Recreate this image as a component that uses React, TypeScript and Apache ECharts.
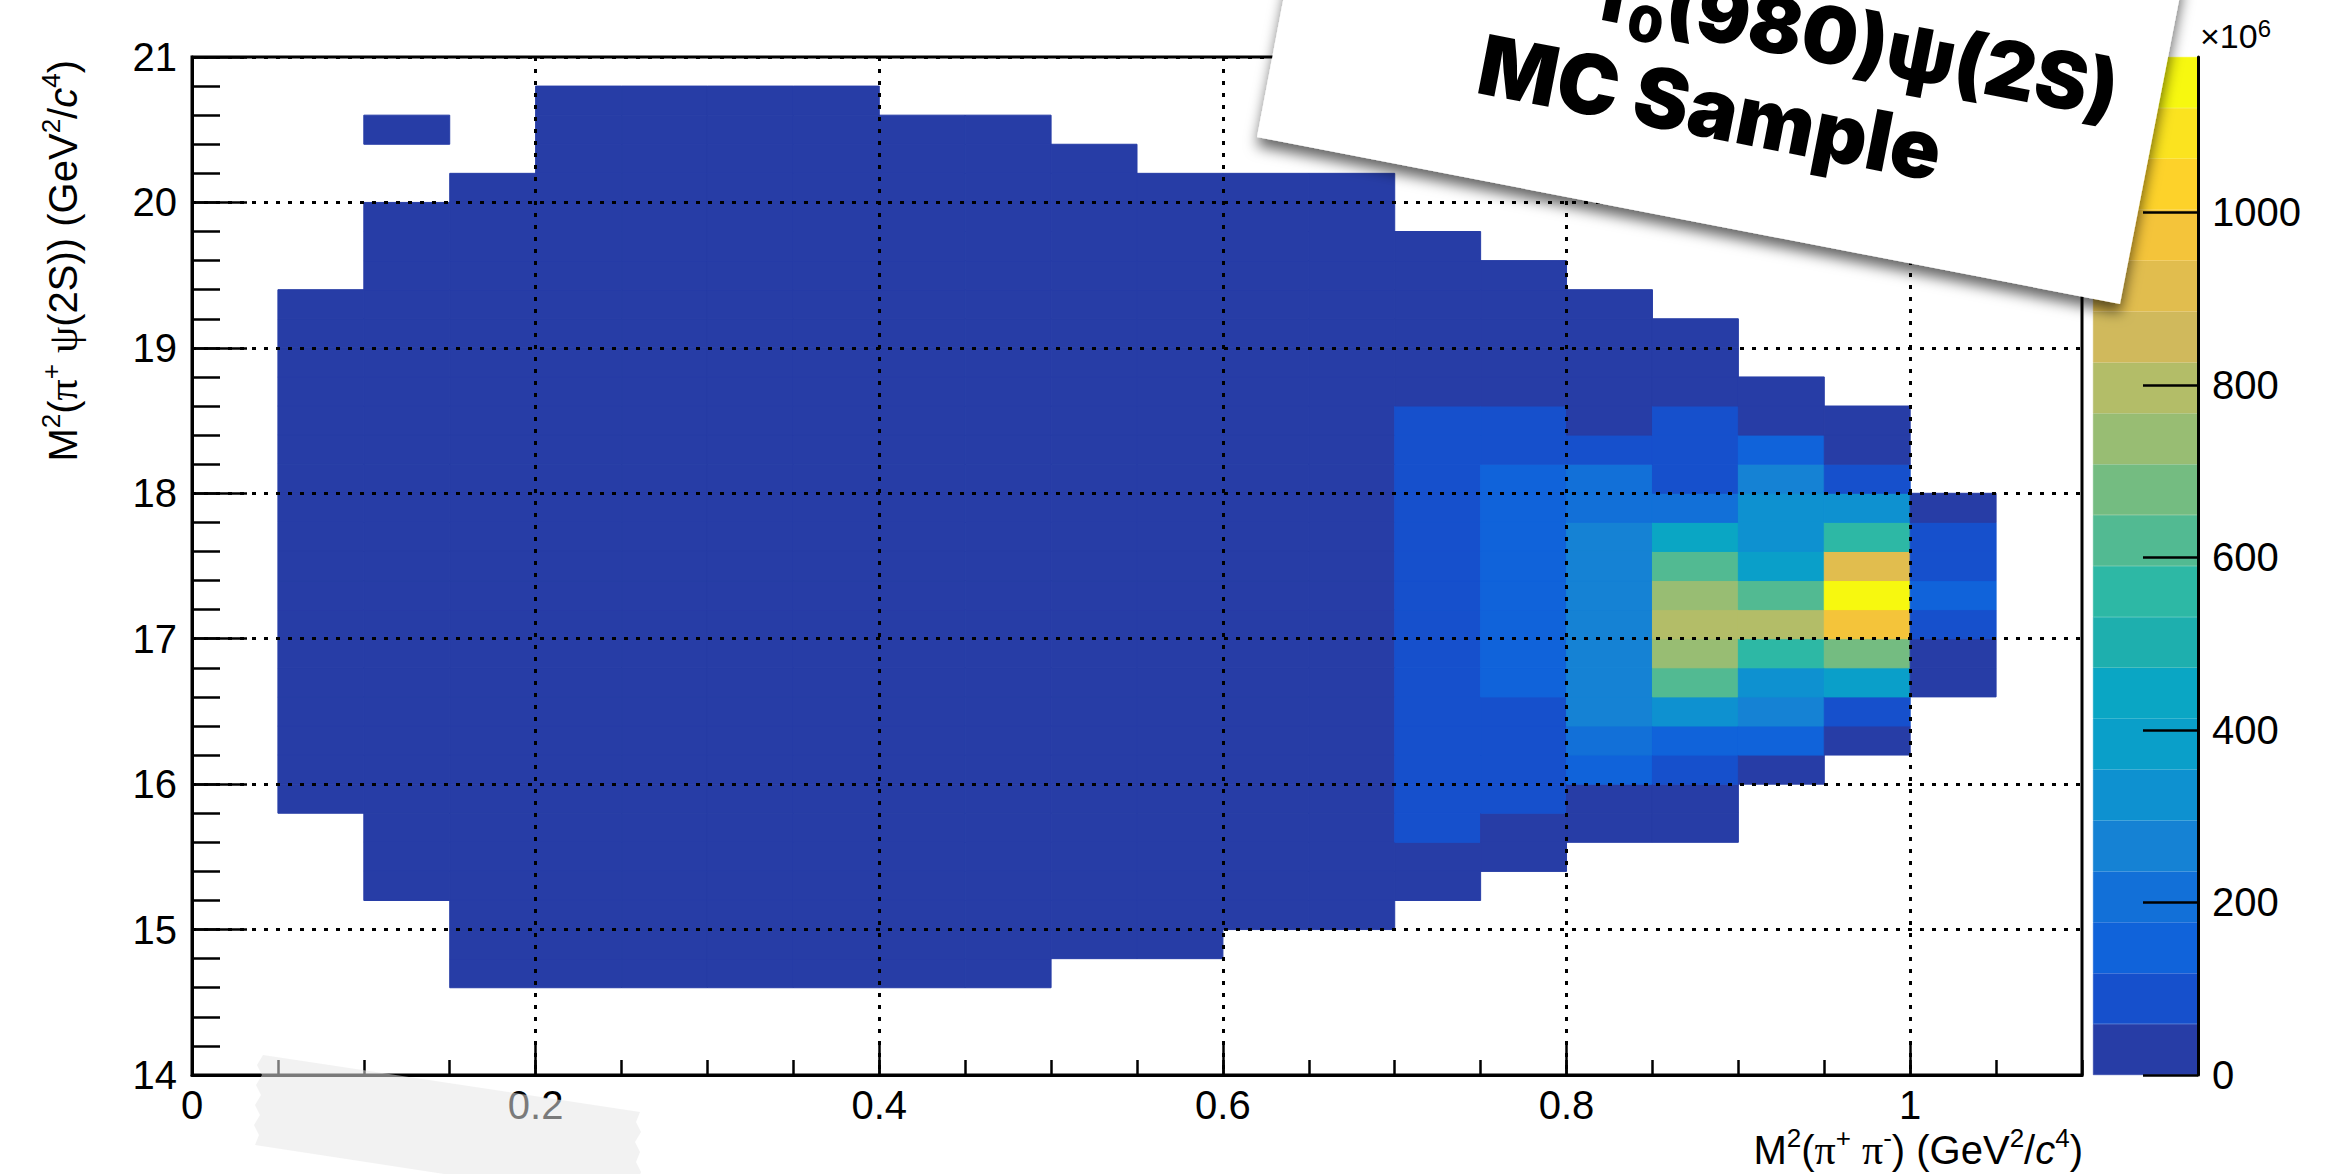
import React, { useEffect, useRef } from "react";
import * as echarts from "echarts";

// ---------- data ----------
const X_RANGE = [0, 1.1];
const Y_RANGE = [14, 21];
const BIN_X = 0.05;
const BIN_Y = 0.2;
const Z_MAX = 1180;

const xTickValues = [0, 0.2, 0.4, 0.6, 0.8, 1];
const yTickValues = [14, 15, 16, 17, 18, 19, 20, 21];
const zTickValues = [0, 200, 400, 600, 800, 1000];

// 20-step palette of the colour bar (bottom to top)
const palette = [
  "#273da6", "#1650cc", "#1063da", "#1270d8", "#1582d4",
  "#0e91d0", "#0a9fc9", "#0aa6c4", "#1eafae", "#2db8a5",
  "#52ba92", "#74bc81", "#98bd73", "#b3bd68", "#d0b95c",
  "#e1bd4e", "#f4c43a", "#fdd22a", "#fbe31f", "#f7f80f",
];

// occupied columns in the lowest colour band: [x bin low edge, y low, y high]
const lowColumns: [number, number, number][] = [
  [0.05, 15.8, 19.4],
  [0.10, 15.2, 20.0],
  [0.10, 20.4, 20.6],
  [0.15, 14.6, 20.2],
  [0.20, 14.6, 20.8],
  [0.25, 14.6, 20.8],
  [0.30, 14.6, 20.8],
  [0.35, 14.6, 20.8],
  [0.40, 14.6, 20.6],
  [0.45, 14.6, 20.6],
  [0.50, 14.8, 20.4],
  [0.55, 14.8, 20.2],
  [0.60, 15.0, 20.2],
  [0.65, 15.0, 20.2],
  [0.70, 15.2, 19.8],
  [0.75, 15.4, 19.6],
  [0.80, 15.6, 19.4],
  [0.85, 15.6, 19.2],
  [0.90, 16.0, 18.8],
  [0.95, 16.2, 18.6],
  [1.00, 16.6, 18.0],
];
const LOW_COUNT = 25; // counts in the darkest band (x10^6)

// brighter cells, per column: consecutive y bins starting at yStart
const hotColumns = [
  { x: 0.70, yStart: 15.6, values: [90, 90, 90, 90, 90, 90, 90, 90, 90, 90, 90, 90, 90, 90, 90] },
  { x: 0.75, yStart: 15.8, values: [90, 90, 90, 90, 150, 150, 150, 150, 150, 150, 150, 150, 90, 90] },
  { x: 0.80, yStart: 16.0, values: [150, 205, 265, 265, 265, 265, 265, 265, 265, 205, 205, 90] },
  { x: 0.85, yStart: 16.0, values: [90, 150, 325, 620, 740, 800, 740, 620, 440, 205, 90, 90, 90] },
  { x: 0.90, yStart: 16.2, values: [150, 265, 325, 560, 800, 620, 385, 325, 325, 265, 150] },
  { x: 0.95, yStart: 16.4, values: [90, 385, 680, 975, 1170, 915, 560, 325, 90] },
  { x: 1.00, yStart: 17.0, values: [90, 150, 90, 90] },
];

function buildCells(): number[][] {
  const hot = new Map<string, number>();
  hotColumns.forEach((col) => {
    const xi = Math.round(col.x / BIN_X);
    const j0 = Math.round((col.yStart - Y_RANGE[0]) / BIN_Y);
    col.values.forEach((v, k) => hot.set(xi + ":" + (j0 + k), v));
  });
  const cells: number[][] = [];
  lowColumns.forEach(([x, ylo, yhi]) => {
    const xi = Math.round(x / BIN_X);
    const j0 = Math.round((ylo - Y_RANGE[0]) / BIN_Y);
    const j1 = Math.round((yhi - Y_RANGE[0]) / BIN_Y);
    for (let j = j0; j < j1; j++) {
      const key = xi + ":" + j;
      cells.push([
        +(xi * BIN_X).toFixed(2),
        +(Y_RANGE[0] + j * BIN_Y).toFixed(1),
        hot.has(key) ? (hot.get(key) as number) : LOW_COUNT,
      ]);
    }
  });
  return cells;
}

// ---------- styles ----------
const FONT = "Liberation Sans";
const BLACK = "#000";
const AX_LINE = { color: BLACK, width: 3 };
const TICK_LINE = { color: BLACK, width: 2.5 };
const GRID_LINE = { color: BLACK, width: 3, type: [4, 8] as number[] };

const titleRich = {
  t: { fontSize: 40, fontFamily: FONT, lineHeight: 50, fill: BLACK },
  s: { fontSize: 26, fontFamily: FONT, lineHeight: 30, verticalAlign: "top", fill: BLACK },
  g: { fontSize: 42, fontFamily: "Liberation Serif", lineHeight: 50, fill: BLACK },
  i: { fontSize: 40, fontFamily: FONT, fontStyle: "italic", lineHeight: 50, fill: BLACK },
};

const fmt = (v: number) => String(+(+v).toFixed(2));

function buildOption(): any {
  const cells = buildCells();
  const band = Z_MAX / palette.length;
  const pieces = palette.map((c, i) => ({
    gte: i * band,
    lt: i === palette.length - 1 ? Z_MAX + 1 : (i + 1) * band,
    color: c,
  }));

  const plotLeft = 192;
  const plotTop = 57;
  const plotW = 1890;
  const plotH = 1018;

  return {
    animation: false,
    backgroundColor: "#fff",
    grid: [
      { left: plotLeft, top: plotTop, width: plotW, height: plotH, show: true, borderColor: BLACK, borderWidth: 3, backgroundColor: "#fff" },
      { left: 2093, top: plotTop, width: 105, height: plotH },
    ],
    visualMap: {
      type: "piecewise",
      show: false,
      seriesIndex: 0,
      dimension: 2,
      pieces,
    },
    xAxis: [
      {
        gridIndex: 0, type: "value", position: "bottom", min: X_RANGE[0], max: X_RANGE[1], interval: BIN_X,
        axisLine: { show: true, onZero: false, lineStyle: AX_LINE },
        axisTick: { show: true, inside: true, length: 15, lineStyle: TICK_LINE },
        axisLabel: { show: false },
        splitLine: { show: false },
      },
      {
        gridIndex: 0, type: "value", position: "bottom", min: X_RANGE[0], max: X_RANGE[1], interval: 0.2,
        z: 10,
        axisLine: { show: false, onZero: false },
        axisTick: { show: true, inside: true, length: 30, lineStyle: TICK_LINE, customValues: xTickValues },
        axisLabel: {
          show: true, customValues: xTickValues, margin: 10, fontSize: 40, fontFamily: FONT, color: BLACK,
          formatter: (v: number) => (xTickValues.some((t) => Math.abs(t - v) < 1e-6) ? fmt(v) : ""),
        },
        splitLine: { show: true, lineStyle: GRID_LINE },
      },
      { gridIndex: 1, type: "category", data: [""], show: false },
    ],
    yAxis: [
      {
        gridIndex: 0, type: "value", position: "left", min: Y_RANGE[0], max: Y_RANGE[1], interval: BIN_Y,
        axisLine: { show: true, onZero: false, lineStyle: AX_LINE },
        axisTick: { show: true, inside: true, length: 28, lineStyle: TICK_LINE },
        axisLabel: { show: false },
        splitLine: { show: false },
      },
      {
        gridIndex: 0, type: "value", position: "left", offset: 0, min: Y_RANGE[0], max: Y_RANGE[1], interval: 1,
        z: 10,
        axisLine: { show: false, onZero: false },
        axisTick: { show: true, inside: true, length: 55, lineStyle: TICK_LINE, customValues: yTickValues },
        axisLabel: { show: true, customValues: yTickValues, margin: 15, fontSize: 40, fontFamily: FONT, color: BLACK, formatter: (v: number) => fmt(v) },
        splitLine: { show: true, lineStyle: GRID_LINE },
      },
      {
        gridIndex: 1, type: "value", position: "right", min: 0, max: Z_MAX, interval: 200,
        z: 10,
        axisLine: { show: true, onZero: false, lineStyle: AX_LINE },
        axisTick: { show: true, inside: true, length: 55, lineStyle: TICK_LINE, customValues: zTickValues },
        axisLabel: {
          show: true, customValues: zTickValues, margin: 14, fontSize: 40, fontFamily: FONT, color: BLACK,
          formatter: (v: number) => (zTickValues.indexOf(+v) >= 0 ? String(v) : ""),
        },
        splitLine: { show: false },
      },
    ],
    series: [
      {
        type: "custom",
        xAxisIndex: 0,
        yAxisIndex: 0,
        data: cells,
        encode: { x: 0, y: 1 },
        z: 2,
        renderItem: (params: any, api: any) => {
          const x0 = api.value(0);
          const y0 = api.value(1);
          const p0 = api.coord([x0, y0]);
          const p1 = api.coord([x0 + BIN_X, y0 + BIN_Y]);
          const color = api.visual("color");
          return {
            type: "rect",
            shape: { x: p0[0], y: p1[1], width: p1[0] - p0[0], height: p0[1] - p1[1] },
            style: { fill: color, stroke: color, lineWidth: 1 },
          };
        },
      },
      ...palette.map((color) => ({
        type: "bar",
        xAxisIndex: 2,
        yAxisIndex: 2,
        stack: "colorbar",
        data: [band],
        barWidth: "100%",
        silent: true,
        itemStyle: { color, borderColor: color, borderWidth: 0.5 },
      })),
    ],
    graphic: [
      {
        type: "text", x: 63, y: 60, rotation: Math.PI / 2, z: 50,
        style: {
          text: "{t|M}{s|2}{t|(}{g|π}{s|+}{t| }{g|ψ}{t|(2S)) (GeV}{s|2}{t|/}{i|c}{s|4}{t|)}",
          rich: titleRich, align: "right", verticalAlign: "middle", textAlign: "right", textVerticalAlign: "middle",
        },
      },
      {
        type: "text", x: 2083, y: 1150, z: 50,
        style: {
          text: "{t|M}{s|2}{t|(}{g|π}{s|+}{t| }{g|π}{s|-}{t|) (GeV}{s|2}{t|/}{i|c}{s|4}{t|)}",
          rich: titleRich, align: "right", verticalAlign: "middle", textAlign: "right", textVerticalAlign: "middle",
        },
      },
      {
        type: "text", x: 2200, y: 36, z: 50,
        style: {
          text: "{t|×10}{s|6}",
          rich: {
            t: { fontSize: 34, fontFamily: FONT, lineHeight: 40, fill: BLACK },
            s: { fontSize: 24, fontFamily: FONT, lineHeight: 26, verticalAlign: "top", fill: BLACK },
          },
          align: "left", verticalAlign: "middle", textAlign: "left", textVerticalAlign: "middle",
        },
      },
      // paper note
      {
        type: "polygon", z: 100,
        shape: { points: [[1287, -20], [2183, -20], [2120, 304], [1257, 137]] },
        style: { fill: "#ffffff", shadowBlur: 14, shadowColor: "rgba(0,0,0,0.6)", shadowOffsetX: 0, shadowOffsetY: 9 },
      },
      {
        type: "text", x: 1600, y: -10, rotation: -0.191, z: 101,
        style: {
          text: "{t|f}{b|0}{t|(980)ψ(2S)}",
          rich: {
            t: { fontSize: 79, fontFamily: "Inter", fontWeight: 900, lineHeight: 100, fill: BLACK },
            b: { fontSize: 50, fontFamily: "Inter", fontWeight: 900, lineHeight: 70, verticalAlign: "bottom", fill: BLACK },
          },
          align: "left", verticalAlign: "middle", textAlign: "left", textVerticalAlign: "middle",
        },
      },
      {
        type: "text", x: 1480, y: 63, rotation: -0.191, z: 101,
        style: {
          text: "MC Sample", fontSize: 83, fontFamily: "Inter", fontWeight: 900, fill: BLACK,
          align: "left", verticalAlign: "middle", textAlign: "left", textVerticalAlign: "middle",
        },
      },
      // tape
      {
        type: "polygon", z: 110,
        shape: {
          points: [
            [263, 1055], [640, 1112], [636, 1122], [641, 1132], [635, 1142], [640, 1152], [636, 1162],
            [641, 1172], [636, 1186], [640, 1204], [255, 1145], [259, 1135], [254, 1125], [260, 1115],
            [255, 1105], [261, 1095], [256, 1085], [262, 1075], [257, 1065],
          ],
        },
        style: { fill: "rgba(230,230,230,0.53)" },
      },
    ],
  };
}

export default function App() {
  const ref = useRef<HTMLDivElement>(null);
  useEffect(() => {
    if (!ref.current) return;
    const chart = echarts.init(ref.current, null, { renderer: "svg" });
    chart.setOption(buildOption());
    return () => chart.dispose();
  }, []);
  return (
    <div
      ref={ref}
      style={{ position: "fixed", left: 0, top: 0, width: 2352, height: 1174, background: "#fff" }}
    />
  );
}
